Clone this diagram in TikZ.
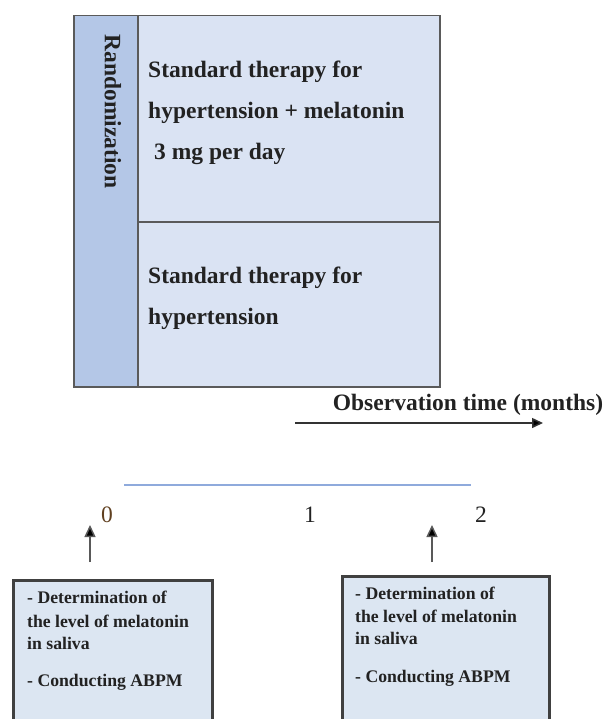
\documentclass[tikz,border=0pt]{standalone}
\usepackage{fontspec}
\setmainfont{Liberation Serif}
\usetikzlibrary{arrows.meta}
\definecolor{boxfill}{HTML}{DAE3F3}
\definecolor{stripfill}{HTML}{B4C7E7}
\definecolor{boxline}{HTML}{5A5A5A}
\definecolor{lowfill}{HTML}{DCE6F2}
\definecolor{lowline}{HTML}{404040}
\definecolor{tl}{HTML}{8FAADC}
\definecolor{txt}{HTML}{222222}
\tikzset{
  big/.style={font=\fontsize{23.5}{28}\selectfont\bfseries, text=txt, inner sep=0pt},
  small/.style={font=\fontsize{17.7}{21}\selectfont\bfseries, text=txt, inner sep=0pt},
  num/.style={font=\fontsize{23.5}{28}\selectfont, text=txt, inner sep=0pt},
  lowbox/.style={draw=lowline, line width=2.5pt, fill=lowfill, inner sep=0pt, anchor=north west},
  uparrow/.style={draw=black!65, line width=1.5pt, -{Triangle[length=12pt,width=11pt,fill=black]}},
}
\begin{document}
\begin{tikzpicture}[x=1pt,y=-1pt]
\useasboundingbox (0,0) rectangle (606,719);
\clip (0,0) rectangle (606,719);
% main box
\node (arm1) [draw=boxline, line width=1.5pt, fill=boxfill, anchor=north west, minimum width=302pt, minimum height=206pt, inner sep=0pt] at (137,15) {};
\node (arm2) [draw=boxline, line width=1.5pt, fill=boxfill, anchor=north west, minimum width=302pt, minimum height=165pt, inner sep=0pt] at (137,221) {};
\node (rand) [draw=boxline, line width=1.5pt, fill=stripfill, anchor=north west, minimum width=64pt, minimum height=371pt, inner sep=0pt] at (73,15) {};
\node (randtxt) [big, rotate=-90] at (113,111.5) {Randomization};
% arm texts
\node (t11) [big, anchor=base west] at (148,78) {Standard therapy for};
\node (t12) [big, anchor=base west] at (148,119) {hypertension + melatonin};
\node (t13) [big, anchor=base west] at (154,160) {3 mg per day};
\node (t21) [big, anchor=base west] at (148,283) {Standard therapy for};
\node (t22) [big, anchor=base west] at (148,324) {hypertension};
% observation time
\node (obs) [big, anchor=base] at (468,410) {Observation time (months)};
\coordinate (obsA) at (295,423);
\coordinate (obsB) at (543,423);
\draw[draw=black!80, line width=1.5pt, -{Triangle[length=11pt,width=10pt,fill=black]}] (obsA) -- (obsB);
% timeline
\coordinate (tlA) at (124,485);
\coordinate (tlB) at (471,485);
\draw[tl, line width=2pt] (tlA) -- (tlB);
\node (n0) [num, text=brown!50!black] at (107,515) {0};
\node (n1) [num] at (310,515) {1};
\node (n2) [num] at (481,515) {2};
% lower boxes
\node (b0) [lowbox, minimum width=199pt, minimum height=160pt] at (12,579) {};
\node (b2) [lowbox, minimum width=207pt, minimum height=160pt] at (341,575) {};
\coordinate (a0) at (90,525);
\coordinate (a2) at (432,525);
\draw[uparrow] (b0.north -| a0) ++(0,-17) coordinate (a0s) -- (a0);
\draw[uparrow] (b2.north -| a2) ++(0,-13) coordinate (a2s) -- (a2);
% lower box texts
\node (l1) [small, anchor=base west] at (27,603) {- Determination of};
\node (l2) [small, anchor=base west] at (27,627) {the level of melatonin};
\node (l3) [small, anchor=base west] at (27,649) {in saliva};
\node (l4) [small, anchor=base west] at (27,686) {- Conducting ABPM};
\node (r1) [small, anchor=base west] at (355,599) {- Determination of};
\node (r2) [small, anchor=base west] at (355,622) {the level of melatonin};
\node (r3) [small, anchor=base west] at (355,644) {in saliva};
\node (r4) [small, anchor=base west] at (355,682) {- Conducting ABPM};
\end{tikzpicture}
\end{document}
